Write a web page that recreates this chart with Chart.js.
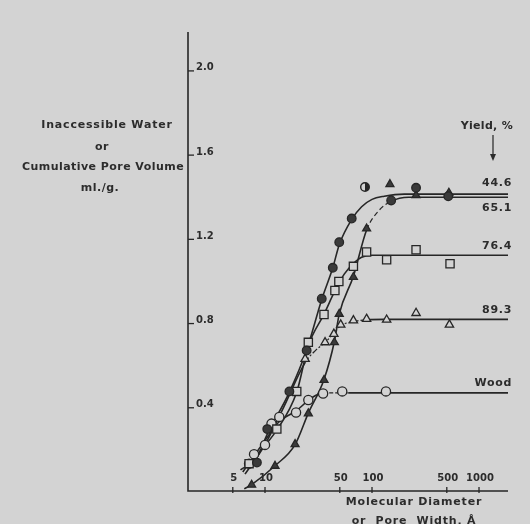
<!DOCTYPE html>
<html>
<head>
<meta charset="utf-8">
<script src="https://cdn.jsdelivr.net/npm/chart.js@4.4.1/dist/chart.umd.min.js"></script>
<style>
html,body{margin:0;padding:0;background:#d3d3d3;}
#wrap{width:530px;height:524px;position:relative;}
</style>
</head>
<body>
<div id="wrap"><canvas id="c" width="530" height="524"></canvas></div>
<script>
// ---------- data ----------
const xTicks = [5, 10, 50, 100, 500, 1000];
const yTicks = [0.4, 0.8, 1.2, 1.6, 2.0];
const seriesNames = ["44.6", "65.1", "76.4", "89.3", "Wood"];

// measured points
const p446x = [8.4, 10.5, 16.9, 24.5, 33.9, 43, 49.4, 64.6, 151, 258, 516];
const p446y = [0.135, 0.294, 0.473, 0.667, 0.913, 1.06, 1.182, 1.294, 1.38, 1.44, 1.40];
const o446x = [86];
const o446y = [1.444];
const p651x = [7.5, 12.4, 19.1, 25.4, 35.6, 44.5, 49.4, 67, 89, 258, 523];
const p651y = [0.029, 0.119, 0.222, 0.368, 0.527, 0.706, 0.841, 1.016, 1.246, 1.405, 1.416];
const o651x = [147];
const o651y = [1.457];
const p764x = [7.1, 12.9, 19.8, 25.4, 35.6, 45, 49, 67, 89, 137, 258, 536];
const p764y = [0.13, 0.294, 0.473, 0.706, 0.838, 0.952, 0.995, 1.067, 1.135, 1.098, 1.146, 1.079];
const p893x = [23.7, 36.4, 44, 51, 67, 89, 137, 258, 529];
const p893y = [0.627, 0.706, 0.746, 0.79, 0.81, 0.817, 0.813, 0.845, 0.79];
const pWx = [7.1, 7.9, 10, 11.5, 13.6, 19.5, 25.4, 34.9, 52.7, 135];
const pWy = [0.13, 0.175, 0.219, 0.32, 0.352, 0.373, 0.432, 0.463, 0.473, 0.473];

// drawn (smoothed) curves
const c446x = [5.9, 8.4, 10.5, 16.9, 24.5, 33.9, 43, 49.4, 64.6, 80, 100, 130, 200, 1870];
const c446y = [0.10, 0.16, 0.27, 0.47, 0.67, 0.91, 1.06, 1.17, 1.29, 1.35, 1.385, 1.40, 1.41, 1.41];
const c651x = [6.4, 7.5, 12.4, 19.1, 25.4, 35.6, 44.5, 49.4, 67, 89, 115, 150, 220, 1870];
const c651y = [0.01, 0.03, 0.12, 0.22, 0.37, 0.53, 0.71, 0.84, 1.02, 1.24, 1.33, 1.375, 1.395, 1.395];
const c764x = [7.1, 12.9, 19.8, 25.4, 35.6, 45, 55, 67, 80, 100, 1870];
const c764y = [0.13, 0.29, 0.47, 0.69, 0.84, 0.95, 1.03, 1.08, 1.11, 1.12, 1.12];
const c893x = [6.5, 10, 15, 23.7, 30, 36.4, 44, 51, 67, 89, 130, 1870];
const c893y = [0.08, 0.22, 0.40, 0.61, 0.67, 0.705, 0.75, 0.785, 0.805, 0.813, 0.815, 0.815];
const cWx = [6.2, 7.5, 10, 13.6, 19.5, 25.4, 30, 35, 45, 60, 1870];
const cWy = [0.09, 0.15, 0.24, 0.33, 0.38, 0.43, 0.455, 0.465, 0.466, 0.466, 0.466];
const plateau = [1.41, 1.395, 1.12, 0.815, 0.466];
const labelOffset = [-11, 11, -9, -9, -10];
// x-ranges drawn broken (dashed) in the original
const dash651 = [70, 160];
const dash893 = [20, 100];
const dashW = [35, 140];

// ---------- helpers ----------
const INK = '#262626';
const BG = '#d3d3d3';
const zip = (xs, ys) => xs.map((x, i) => ({x: x, y: ys[i]}));

function halfCircle(r) {
  const cv = document.createElement('canvas');
  const s = Math.ceil(r * 2 + 3);
  cv.width = s; cv.height = s;
  const g = cv.getContext('2d');
  const c = s / 2;
  g.fillStyle = BG; g.beginPath(); g.arc(c, c, r, 0, Math.PI * 2); g.fill();
  g.fillStyle = INK; g.beginPath(); g.moveTo(c, c); g.arc(c, c, r, -Math.PI / 2, Math.PI / 2); g.closePath(); g.fill();
  g.strokeStyle = INK; g.lineWidth = 1.4; g.beginPath(); g.arc(c, c, r, 0, Math.PI * 2); g.stroke();
  return cv;
}

function curve(xs, ys, dashRange, dash) {
  const ds = {type: 'line', data: zip(xs, ys), showLine: true, pointRadius: 0, borderColor: INK,
    borderWidth: 1.6, cubicInterpolationMode: 'monotone', fill: false, order: 2};
  if (dashRange) {
    ds.segment = {
      borderDash: c => (c.p0.parsed.x >= dashRange[0] && c.p1.parsed.x <= dashRange[1]) ? dash : undefined,
      borderWidth: c => (c.p0.parsed.x >= dashRange[0] && c.p1.parsed.x <= dashRange[1]) ? 1.2 : undefined
    };
  }
  return ds;
}
function pts(xs, ys, style, r, filled) {
  return {type: 'scatter', data: zip(xs, ys), showLine: false, pointStyle: style, pointRadius: r,
    pointHoverRadius: r, pointBackgroundColor: filled ? '#3a3a3a' : BG, pointBorderColor: INK,
    pointBorderWidth: 1.3, order: 1};
}

function spaced(ctx, text, x, y, sp) {
  ctx.letterSpacing = sp + 'px';
  ctx.fillText(text, x, y);
  ctx.letterSpacing = '0px';
}

const decor = {
  id: 'decor',
  beforeDraw(chart) {
    const ctx = chart.ctx;
    ctx.save(); ctx.fillStyle = BG; ctx.fillRect(0, 0, chart.width, chart.height); ctx.restore();
  },
  afterDraw(chart) {
    const ctx = chart.ctx, xs = chart.scales.x, ys = chart.scales.y, a = chart.chartArea;
    ctx.save();
    ctx.strokeStyle = INK; ctx.fillStyle = '#2c2c2c'; ctx.lineWidth = 1.6;
    // axes
    ctx.beginPath();
    ctx.moveTo(a.left, a.top); ctx.lineTo(a.left, a.bottom); ctx.lineTo(a.right, a.bottom);
    ctx.stroke();
    // y ticks
    ctx.lineWidth = 1.3;
    ctx.font = 'bold 10px "DejaVu Sans"';
    ctx.textAlign = 'left'; ctx.textBaseline = 'middle';
    yTicks.forEach(v => {
      const py = ys.getPixelForValue(v);
      ctx.beginPath(); ctx.moveTo(a.left, py + 1); ctx.lineTo(a.left + 6, py + 1); ctx.stroke();
      ctx.fillText(v.toFixed(1), a.left + 8, py - 2);
    });
    // x ticks (labels sit above the axis)
    ctx.textAlign = 'center';
    xTicks.forEach(v => {
      const px = xs.getPixelForValue(v);
      ctx.beginPath(); ctx.moveTo(px, a.bottom - 4); ctx.lineTo(px, a.bottom + 2); ctx.stroke();
      ctx.fillText(String(v), px + 1, a.bottom - 13);
    });
    // series labels at right
    ctx.font = 'bold 11px "DejaVu Sans"';
    ctx.textAlign = 'right';
    seriesNames.forEach((n, i) => {
      spaced(ctx, n, 512, ys.getPixelForValue(plateau[i]) + labelOffset[i], 0.7);
    });
    spaced(ctx, 'Yield, %', 513, 126, 0.3);
    // arrow
    ctx.lineWidth = 1.2;
    ctx.beginPath(); ctx.moveTo(493, 135); ctx.lineTo(493, 156); ctx.stroke();
    ctx.beginPath(); ctx.moveTo(490, 154); ctx.lineTo(496, 154); ctx.lineTo(493, 161); ctx.closePath(); ctx.fill();
    // y title
    ctx.textAlign = 'center';
    ctx.font = 'bold 11px "DejaVu Sans"';
    spaced(ctx, 'Inaccessible Water', 107, 125, 0.8);
    spaced(ctx, 'or', 102, 147, 0.6);
    spaced(ctx, 'Cumulative Pore Volume', 103, 167, 0.45);
    spaced(ctx, 'ml./g.', 100, 188, 0.5);
    // x title
    spaced(ctx, 'Molecular Diameter', 414, 502, 0.8);
    spaced(ctx, 'or  Pore  Width, \u00C5', 414, 521, 0.8);
    ctx.restore();
  }
};

new Chart(document.getElementById('c'), {
  type: 'scatter',
  data: {
    datasets: [
      pts(p446x, p446y, 'circle', 4.3, true),
      {type: 'scatter', data: zip(o446x, o446y), showLine: false, pointStyle: halfCircle(4.3), order: 1},
      pts(p651x, p651y, 'triangle', 4.6, true),
      pts(o651x, o651y, 'triangle', 4.6, true),
      pts(p764x, p764y, 'rect', 5.8, false),
      pts(p893x, p893y, 'triangle', 4.8, false),
      pts(pWx, pWy, 'circle', 4.6, false),
      curve(c446x, c446y),
      curve(c651x, c651y, dash651, [5, 3]),
      curve(c764x, c764y),
      curve(c893x, c893y, dash893, [6, 2, 2, 2]),
      curve(cWx, cWy, dashW, [4, 2])
    ]
  },
  options: {
    responsive: false,
    animation: false,
    devicePixelRatio: 1,
    layout: {padding: {left: 188, right: 22, top: 32, bottom: 33}},
    plugins: {legend: {display: false}, tooltip: {enabled: false}},
    scales: {
      x: {type: 'logarithmic', min: 1.907, max: 1866, display: false},
      y: {type: 'linear', min: 0, max: 2.18, display: false}
    }
  },
  plugins: [decor]
});
</script>
</body>
</html>
